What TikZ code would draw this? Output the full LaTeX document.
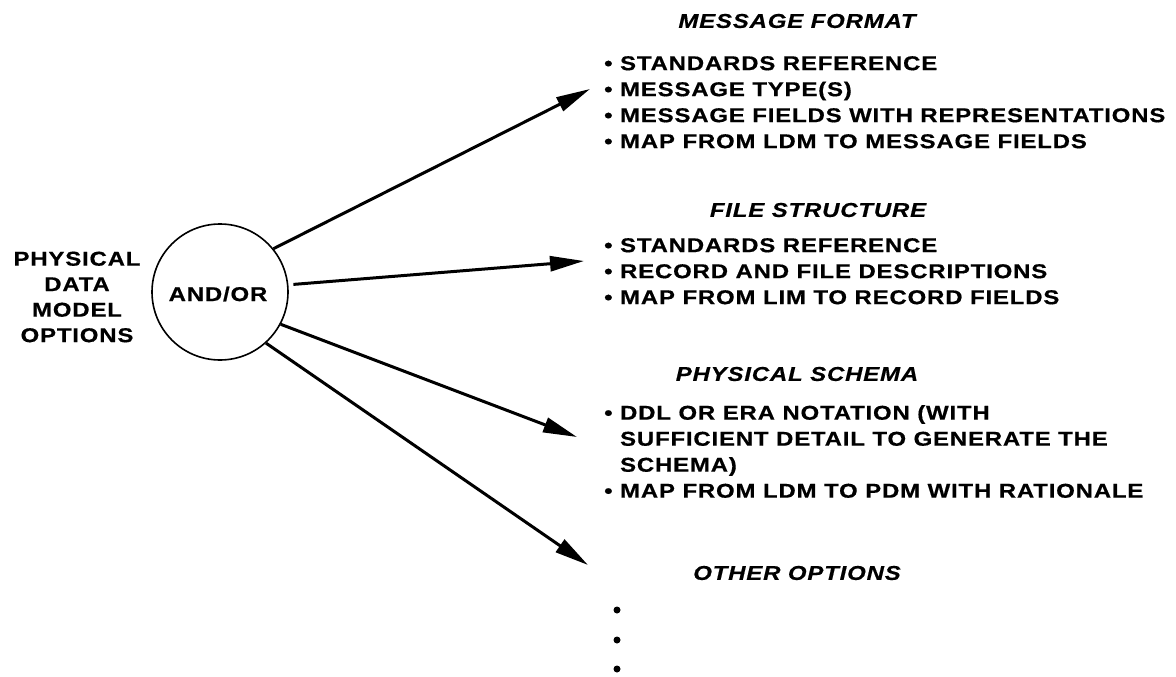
\documentclass[tikz,border=0pt]{standalone}
\usepackage{fontspec}
\setmainfont{Liberation Sans}[FakeStretch=1.2,LetterSpace=4,FakeBold=0.5]
\usetikzlibrary{arrows.meta}
\tikzset{
  lbl/.style={inner sep=0pt, font=\bfseries\fontsize{20}{25.5}\selectfont},
  head/.style={inner sep=0pt, font=\bfseries\itshape\fontsize{20}{26}\selectfont},
  lst/.style={inner sep=0pt, font=\bfseries\fontsize{20}{26}\selectfont, align=left, anchor=north west},
  arr/.style={line width=3pt, -{Triangle[length=34pt,width=15pt]}},
}
\begin{document}
\begin{tikzpicture}[x=1pt,y=-1pt]
\useasboundingbox (0,0) rectangle (1176,677);
\fill[white] (0,0) rectangle (1176,677);
% left label and circle
\node[lbl, align=center] (pdm) at (77,297) {PHYSICAL\\DATA\\MODEL\\OPTIONS};
\node[draw, circle, line width=1.6pt, minimum size=136pt, inner sep=0pt] (c) at (220,292) {};
\node[lbl] (andor) at (218,294) {AND/OR};
% headings
\node[head] (h1) at (797,21) {MESSAGE FORMAT};
\node[head] (h2) at (818,210) {FILE STRUCTURE};
\node[head] (h3) at (797,374) {PHYSICAL SCHEMA};
\node[head] (h4) at (797,573) {OTHER OPTIONS};
% lists
\node[lst] (l1) at (604,56) {• STANDARDS REFERENCE\\• MESSAGE TYPE(S)\\• MESSAGE FIELDS WITH REPRESENTATIONS\\• MAP FROM LDM TO MESSAGE FIELDS};
\node[lst] (l2) at (604,238) {• STANDARDS REFERENCE\\• RECORD AND FILE DESCRIPTIONS\\• MAP FROM LIM TO RECORD FIELDS};
\node[lst] (l3) at (604,405) {• DDL OR ERA NOTATION (WITH\\\phantom{• }SUFFICIENT DETAIL TO GENERATE THE\\\phantom{• }SCHEMA)\\• MAP FROM LDM TO PDM WITH RATIONALE};
% dots
\fill (617,610) circle (3.5pt) coordinate (d1);
\fill (617,640) circle (3.5pt) coordinate (d2);
\fill (617,669) circle (3.5pt) coordinate (d3);
% arrow tips
\coordinate (t1) at (590,89);
\coordinate (t2) at (584,261);
\coordinate (t3) at (577,437);
\coordinate (t4) at (588,565);
\draw[arr] (c.39) -- (t1);
\draw[arr, shorten <=5pt] (c.6) -- (t2);
\draw[arr] (c.-28) -- (t3);
\draw[arr] (c.-48) -- (t4);
\end{tikzpicture}
\end{document}
